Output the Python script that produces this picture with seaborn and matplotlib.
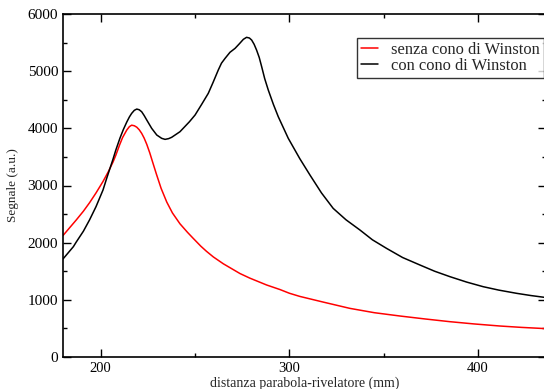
import matplotlib
matplotlib.use("Agg")
import matplotlib.pyplot as plt
import seaborn as sns
import pandas as pd
from matplotlib.ticker import MultipleLocator

# Data
x_senza = [180, 187, 190.8, 194.1, 197.5, 201.2, 204, 206.5, 208, 210, 211.6, 213.8,
           215.2, 216.4, 217.8, 219.1, 220.4, 221.7, 223, 224.4, 226, 227.5, 229.5,
           232, 235, 238, 242, 246, 249, 253, 256, 259.7, 265, 273.8, 279, 287.9,
           295, 300, 305.5, 318, 332, 345, 358.6, 372, 385, 398, 411.6, 423, 436]
y_senza = [2125, 2396, 2550, 2700, 2870, 3070, 3240, 3410, 3530, 3710, 3840, 3970,
           4030, 4055, 4045, 4020, 3975, 3912, 3830, 3720, 3570, 3410, 3200,
           2950, 2710, 2520, 2330, 2180, 2076, 1940, 1850, 1750, 1630, 1460, 1380, 1260,
           1180, 1115, 1060, 960, 851, 775, 717, 665, 618, 578, 542, 518, 496]

x_con = [180, 185.5, 187, 190.8, 194.1, 197.5, 201.2, 203.2, 206.5, 208, 210.2, 212,
         213.8, 215.2, 216.4, 217.8, 219.1, 220.4, 221.7, 223, 224.4, 227, 229.7,
         232.3, 234.1, 236, 237.6, 242, 247, 250, 253.5, 257, 259.5, 262.3, 264,
         265.9, 268.5, 271.2, 273.5, 275.6, 277.3, 278.8, 280, 281.3, 282.6, 284,
         285.3, 286.9, 288.8, 291.5, 294.1, 299.4, 305.5, 310.9, 317, 323.2, 330,
         337.4, 344, 351.5, 360, 369.2, 377, 385.1, 394, 402.7, 411, 420.4, 428, 436]
y_con = [1715, 1930, 2010, 2200, 2400, 2630, 2921, 3130, 3460, 3620, 3830, 3980,
         4110, 4200, 4262, 4315, 4337, 4325, 4290, 4225, 4145, 4000, 3883,
         3825, 3807, 3820, 3843, 3941, 4115, 4233, 4420, 4612, 4800, 5020, 5140,
         5224, 5330, 5399, 5480, 5557, 5592, 5580, 5544, 5470, 5369, 5240,
         5078, 4870, 4670, 4420, 4203, 3825, 3470, 3183, 2870, 2600, 2400,
         2221, 2050, 1900, 1740, 1609, 1500, 1405, 1310, 1230, 1170, 1114, 1075, 1040]

labels = ["senza cono di Winston", "con cono di Winston"]
colors = ["#ff0000", "#000000"]

df = pd.concat([
    pd.DataFrame({"x": x_senza, "y": y_senza, "serie": labels[0]}),
    pd.DataFrame({"x": x_con, "y": y_con, "serie": labels[1]}),
], ignore_index=True)

sns.set_style("ticks")
plt.rcParams["font.family"] = ["Liberation Serif", "DejaVu Serif"]

W, H = 544, 389
fig = plt.figure(figsize=(W / 100, H / 100), dpi=100)
ax = fig.add_axes([63 / W, (H - 357) / H, (546 - 63) / W, (357 - 14) / H])

sns.lineplot(data=df, x="x", y="y", hue="serie", palette=dict(zip(labels, colors)),
             hue_order=labels, ax=ax, linewidth=1.1, sort=False, estimator=None,
             legend=False)

ax.set_xlim(180, 436)
ax.set_ylim(0, 6000)
ax.xaxis.set_major_locator(MultipleLocator(100))
ax.xaxis.set_minor_locator(MultipleLocator(50))
ax.yaxis.set_major_locator(MultipleLocator(1000))
ax.yaxis.set_minor_locator(MultipleLocator(500))
ax.tick_params(which="both", direction="in", top=True, right=True, colors="black")
ax.tick_params(axis="y", labelsize=11)
ax.tick_params(axis="x", labelsize=10.5)
ax.tick_params(which="major", length=6, width=1.0)
ax.tick_params(which="minor", length=3, width=1.0)
for s in ax.spines.values():
    s.set_linewidth(1.2)
    s.set_color("black")

ax.set_xlabel("distanza parabola-rivelatore (mm)", fontsize=10, labelpad=1)
ax.set_ylabel("Segnale (a.u.)", fontsize=9.5, labelpad=6)

handles = [plt.Line2D([], [], color=c, linewidth=1.1) for c in colors]
leg = ax.legend(handles, labels, loc="upper left", bbox_to_anchor=(357 / W, (H - 38) / H),
                bbox_transform=fig.transFigure, frameon=True, fancybox=False,
                shadow=False, fontsize=11.9, handlelength=1.0, handletextpad=0.8,
                borderpad=0.25, labelspacing=0.0, borderaxespad=0)
leg.get_frame().set_edgecolor("black")
leg.get_frame().set_linewidth(1.0)

fig.savefig("out.png", dpi=100)
